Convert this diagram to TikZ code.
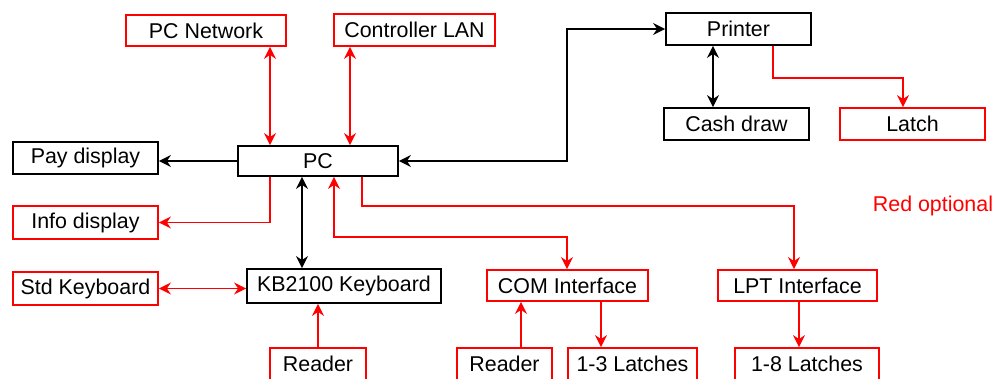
\documentclass[tikz,border=0pt]{standalone}
\usepackage{fontspec}
\setmainfont{Liberation Sans}
\usetikzlibrary{arrows.meta}
\definecolor{optred}{RGB}{255,0,0}
\begin{document}
\begin{tikzpicture}[x=1pt,y=-1pt,
  box/.style={draw=black,line width=1.8pt,inner sep=0pt,font=\fontsize{21.4}{25}\selectfont},
  rbox/.style={box,draw=optred},
  conn/.style={line width=1.9pt,black},
  rconn/.style={conn,optred},
  tip/.style={-{Stealth[length=12pt,width=12pt,inset=4pt]}},
  btip/.style={{Stealth[length=12pt,width=12pt,inset=4pt]}-{Stealth[length=12pt,width=12pt,inset=4pt]}}]
\useasboundingbox (0,0) rectangle (997,379);
\clip (0,0) rectangle (997,379);
\fill[white] (0,0) rectangle (997,379);
% boxes
\node[rbox,minimum width=160pt,minimum height=31pt] (pcnet) at (206,30.5) {PC Network};
\node[rbox,minimum width=161pt,minimum height=32pt] (lan) at (414.5,30) {Controller LAN};
\node[box,minimum width=145pt,minimum height=32pt] (pay) at (85.5,158) {Pay display};
\node[box,minimum width=160pt,minimum height=30pt] (pc) at (318,161) {PC};
\node[box,minimum width=145pt,minimum height=32pt] (printer) at (738.5,29) {Printer};
\node[box,minimum width=145pt,minimum height=32pt] (cash) at (736.5,124) {Cash draw};
\node[rbox,minimum width=145pt,minimum height=32pt] (latch) at (912.5,124) {Latch};
\node[rbox,minimum width=145pt,minimum height=33pt] (info) at (85.5,222.5) {Info display};
\node[rbox,minimum width=145pt,minimum height=33pt] (stdkb) at (85.5,288.5) {Std Keyboard};
\node[box,minimum width=194pt,minimum height=34pt] (kb) at (344,286) {KB2100 Keyboard};
\node[rbox,minimum width=161pt,minimum height=31pt] (com) at (567.5,285.5) {COM Interface};
\node[rbox,minimum width=159pt,minimum height=31pt] (lpt) at (797.5,285.5) {LPT Interface};
\node[rbox,minimum width=96pt,minimum height=32pt] (rd1) at (318,364) {Reader};
\node[rbox,minimum width=95pt,minimum height=32pt] (rd2) at (504.5,364) {Reader};
\node[rbox,minimum width=129pt,minimum height=32pt] (l13) at (632.5,364) {1-3 Latches};
\node[rbox,minimum width=144pt,minimum height=32pt] (l18) at (807,364) {1-8 Latches};
\node[text=optred,font=\fontsize{21.4}{25}\selectfont] (note) at (933,206) {Red optional};
% helper coordinates
\coordinate (c270) at (270,0);
\coordinate (c350) at (350,0);
\coordinate (c302) at (302,0);
\coordinate (c334) at (334,0);
\coordinate (c362) at (362,0);
\coordinate (c567) at (567,0);
\coordinate (c713) at (713,0);
\coordinate (k1) at (773,78);
\coordinate (c903) at (903,0);
\coordinate (r237) at (0,237);
\coordinate (r206) at (0,206);
\coordinate (c794) at (794,0);
\coordinate (c521) at (521,0);
\coordinate (c601) at (601,0);
\coordinate (c799) at (799,0);
% connectors
\draw[rconn,btip] (pcnet.south -| c270) -- (pc.north -| c270);
\draw[rconn,btip] (lan.south -| c350) -- (pc.north -| c350);
\draw[conn,tip] (pc.west) -- (pc.west -| pay.east);
\draw[conn,btip] (pc.east) -- (pc.east -| c567) |- (printer.west);
\draw[conn,btip] (printer.south -| c713) -- (cash.north -| c713);
\draw[rconn,tip] (printer.south -| k1) -- (k1) -| (latch.north -| c903);
\draw[rconn,tip] (pc.south -| c270) |- (info.east);
\draw[conn,btip] (pc.south -| c302) -- (kb.north -| c302);
\draw[rconn,btip] (pc.south -| c334) -- (c334 |- r237) -| (com.north -| c567);
\draw[rconn,tip] (pc.south -| c362) -- (c362 |- r206) -| (lpt.north -| c794);
\draw[rconn,btip] (stdkb.east) -- (stdkb.east -| kb.west);
\draw[rconn,tip] (rd1.north) -- (rd1.north |- kb.south);
\draw[rconn,tip] (rd2.north -| c521) -- (com.south -| c521);
\draw[rconn,tip] (com.south -| c601) -- (l13.north -| c601);
\draw[rconn,tip] (lpt.south -| c799) -- (l18.north -| c799);
\end{tikzpicture}
\end{document}
